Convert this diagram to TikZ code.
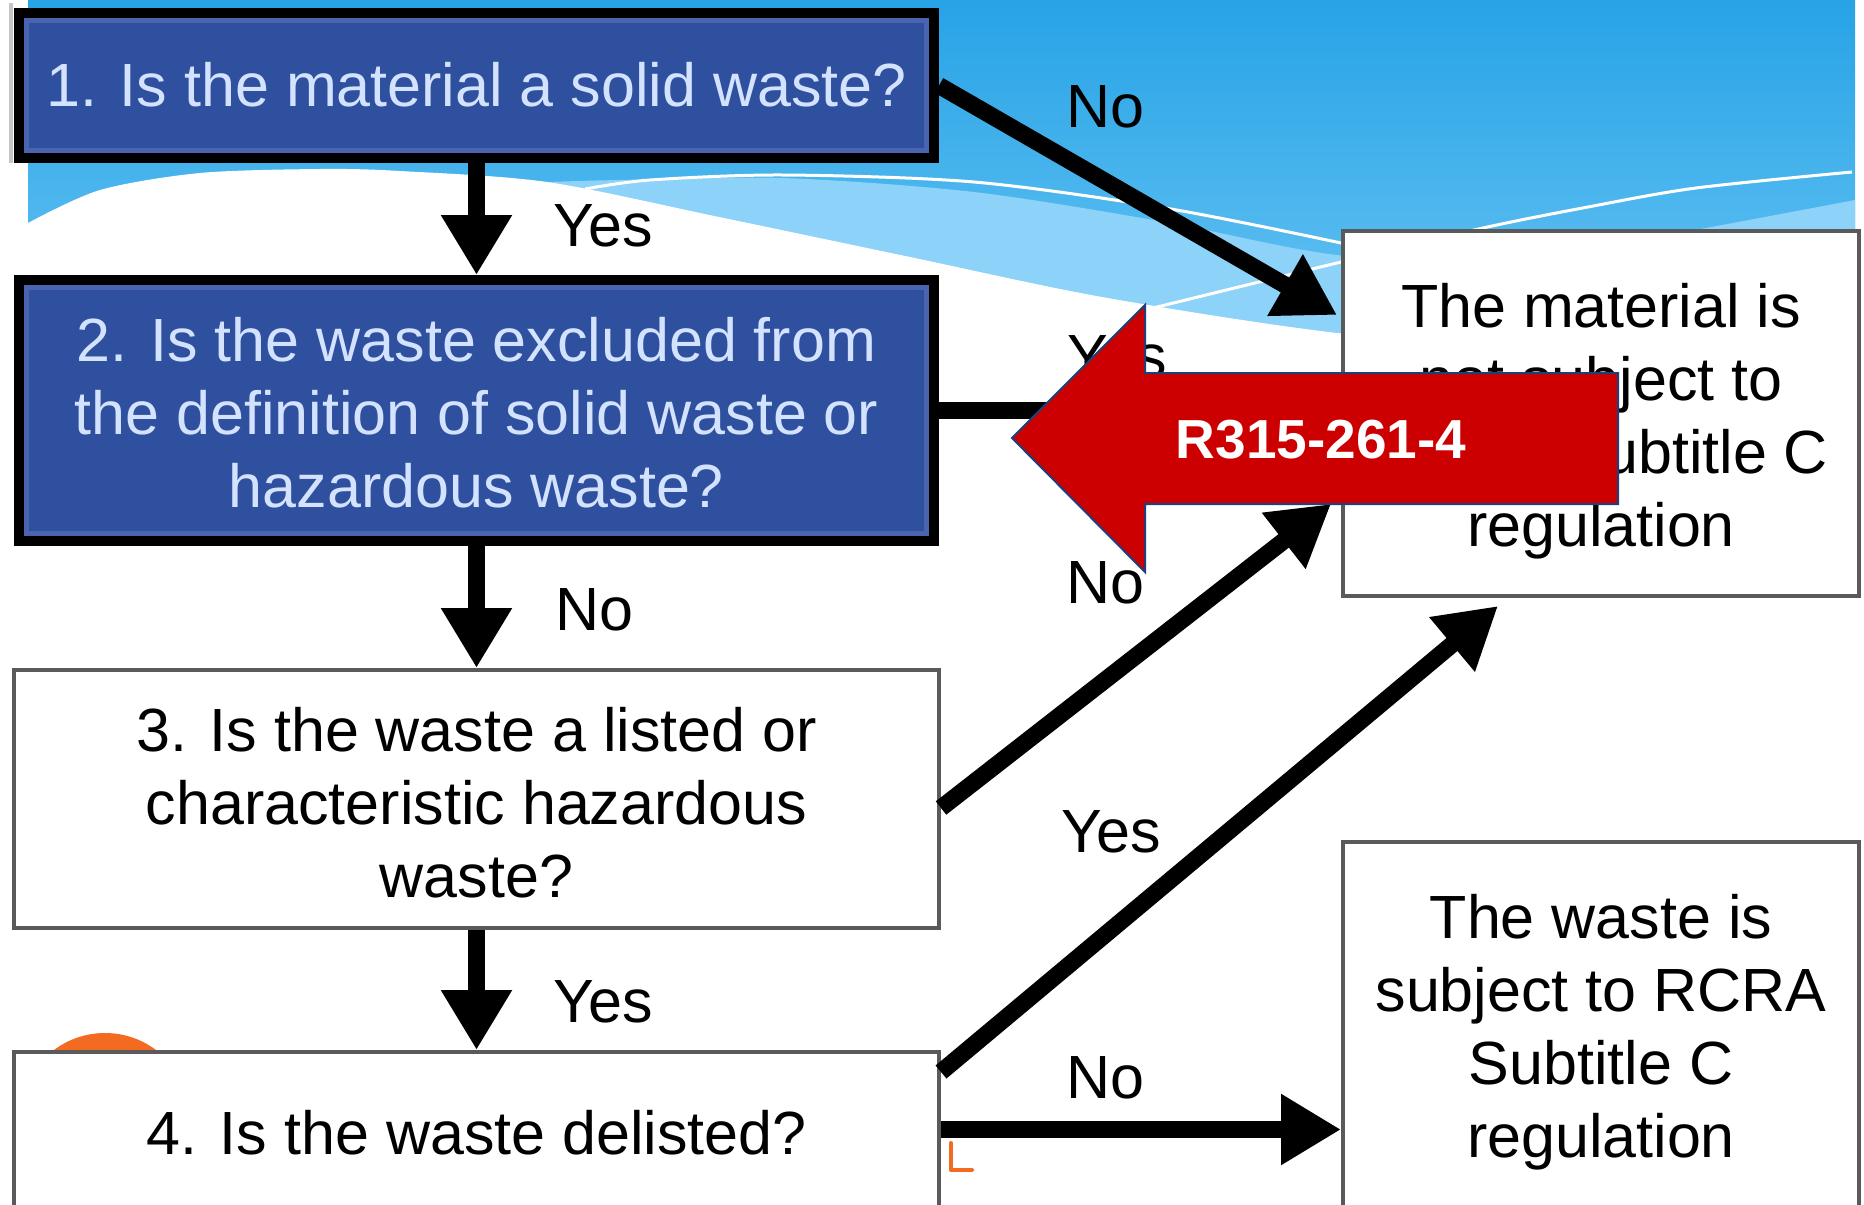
\documentclass[tikz,border=0pt]{standalone}
\usepackage{fontspec}
\setmainfont{Liberation Sans}
\usetikzlibrary{arrows.meta}
\definecolor{skytop}{HTML}{27A3E6}
\definecolor{skybot}{HTML}{70C8F5}
\definecolor{band}{HTML}{8DD2F8}
\definecolor{boxblue}{HTML}{2F509E}
\definecolor{boxrim}{HTML}{4A64B0}
\definecolor{boxtext}{HTML}{D3E2FF}
\definecolor{boxgrey}{HTML}{5A5A5A}
\definecolor{arrowred}{HTML}{CC0000}
\definecolor{arrowedge}{HTML}{1F3F7A}
\definecolor{dotorange}{HTML}{F26B21}
\newcommand{\bxfont}{\fontsize{61}{73}\selectfont}
\newcommand{\redfont}{\fontsize{55}{66}\selectfont\bfseries}
\begin{document}
\begin{tikzpicture}[x=1pt,y=-1pt,
  bluebox/.style={draw=black, line width=10pt, fill=boxblue,
    minimum width=915pt, inner sep=0pt},
  whitebox/.style={draw=boxgrey, line width=4pt, fill=white, inner sep=0pt},
  bluetxt/.style={inner sep=0pt, align=center, font=\bxfont, text=boxtext},
  blacktxt/.style={inner sep=0pt, align=center, font=\bxfont, text=black},
  rim/.style={draw=boxrim, line width=5pt},
  conn/.style={line width=17pt, draw=black, -{Triangle[length=60pt,width=67pt]}},
  lab/.style={font=\bxfont, inner sep=0pt, text=black}]
\clip (0,0) rectangle (1864,1205);
\fill[white] (0,0) rectangle (1864,1205);
% background waves
\shade[top color=skytop, bottom color=skybot] (28,0) rectangle (1855,400);
\fill[band] plot[smooth] coordinates {(547,182) (620,180) (783,178) (974,192) (1165,222) (1337,255) (1520,262) (1706,228) (1855,200)} -- (1855,430) -- (547,430) -- cycle;
\fill[white] plot[smooth] coordinates {(28,223) (100,190) (200,173) (320,169) (400,171) (547,182) (719,217) (910,257) (1102,297) (1337,333) (1600,355) (1864,365)} -- (1864,440) -- (28,440) -- cycle;
\draw[white, line width=3pt] plot[smooth] coordinates {(585,189) (650,180) (783,175) (974,182) (1165,208) (1341,243) (1420,262)};
\draw[white, line width=3pt] plot[smooth] coordinates {(1153,308) (1341,262) (1483,228) (1588,207) (1696,188) (1852,172)};
\fill[gray!45] (9,3) rectangle (13,163);
% orange decoration
\fill[dotorange] (105,1118) circle[radius=85pt];
\draw[dotorange, line width=4pt, line cap=round, line join=round] (951,1143) -- (951,1170) -- (972,1170);
% boxes
\node[bluebox, minimum height=145pt] (b1) at (476.5,85.5) {};
\node[bluebox, minimum height=261pt] (b2) at (476.5,410.5) {};
\draw[rim] ([shift={(12.5pt,-12.5pt)}]b1.north west) rectangle ([shift={(-12.5pt,12.5pt)}]b1.south east);
\draw[rim] ([shift={(12.5pt,-12.5pt)}]b2.north west) rectangle ([shift={(-12.5pt,12.5pt)}]b2.south east);
\node[whitebox, minimum width=925pt, minimum height=258pt] (b3) at (476.5,799) {};
\node[whitebox, minimum width=925pt, minimum height=161pt] (b4) at (476.5,1132.5) {};
\node[whitebox, minimum width=516pt, minimum height=365pt] (bA) at (1601,413.5) {};
\node[whitebox, minimum width=516pt, minimum height=371pt] (bB) at (1601,1027.5) {};
% box texts
\node[bluetxt] (t1) at ([yshift=1pt]b1.center) {1. Is the material a solid waste?};
\node[bluetxt] (t2) at ([yshift=-2pt]b2.center) {2. Is the waste excluded from\\the definition of solid waste or\\hazardous waste?};
\node[blacktxt] (t3) at ([yshift=-4pt]b3.center) {3. Is the waste a listed or\\characteristic hazardous\\waste?};
\node[blacktxt] (t4) at (b4.center) {4. Is the waste delisted?};
\node[blacktxt] (tA) at ([yshift=-8pt]bA.center) {The material is\\not subject to\\RCRA Subtitle C\\regulation};
\node[blacktxt] (tB) at ([yshift=-5pt]bB.center) {The waste is\\subject to RCRA\\Subtitle C\\regulation};
% labels
\node[lab] (ly1) at (603,226) {Yes};
\node[lab] (ln1) at (1105,107) {No};
\node[lab] (ly2) at (1117,357) {Yes};
\node[lab] (ln2) at (594,610) {No};
\node[lab] (ln3) at (1105,583) {No};
\node[lab] (ly3) at (603,1002) {Yes};
\node[lab] (ly4) at (1111,832) {Yes};
\node[lab] (ln4) at (1105,1078) {No};
% connectors
\draw[conn] (b1.south) -- (b2.north);
\draw[conn] (b2.south) -- (b3.north);
\draw[conn] (b3.south) -- (b4.north);
\draw[conn] (b1.east) -- ([xshift=-4pt,yshift=-86pt]bA.north west);
\draw[conn] (b2.east) -- (b2.east -| bA.west);
\draw[conn] ([yshift=-9pt]b3.east) -- ([xshift=-10pt,yshift=94pt]bA.south west);
\draw[conn] ([yshift=-22pt]b4.north east) -- ([xshift=157pt,yshift=-8pt]bA.south west);
\coordinate (p4) at ([yshift=3pt]b4.east);
\draw[conn] (p4) -- (p4 -| bB.west);
% red arrow
\filldraw[fill=arrowred, draw=arrowedge, line width=2pt] (1012,438) -- (1145,305) -- (1145,373) -- (1618,373) -- (1618,504) -- (1145,504) -- (1145,572) -- cycle;
\node[font=\redfont, text=white, inner sep=0pt] (rlab) at (1321,440) {R315-261-4};
\end{tikzpicture}
\end{document}
